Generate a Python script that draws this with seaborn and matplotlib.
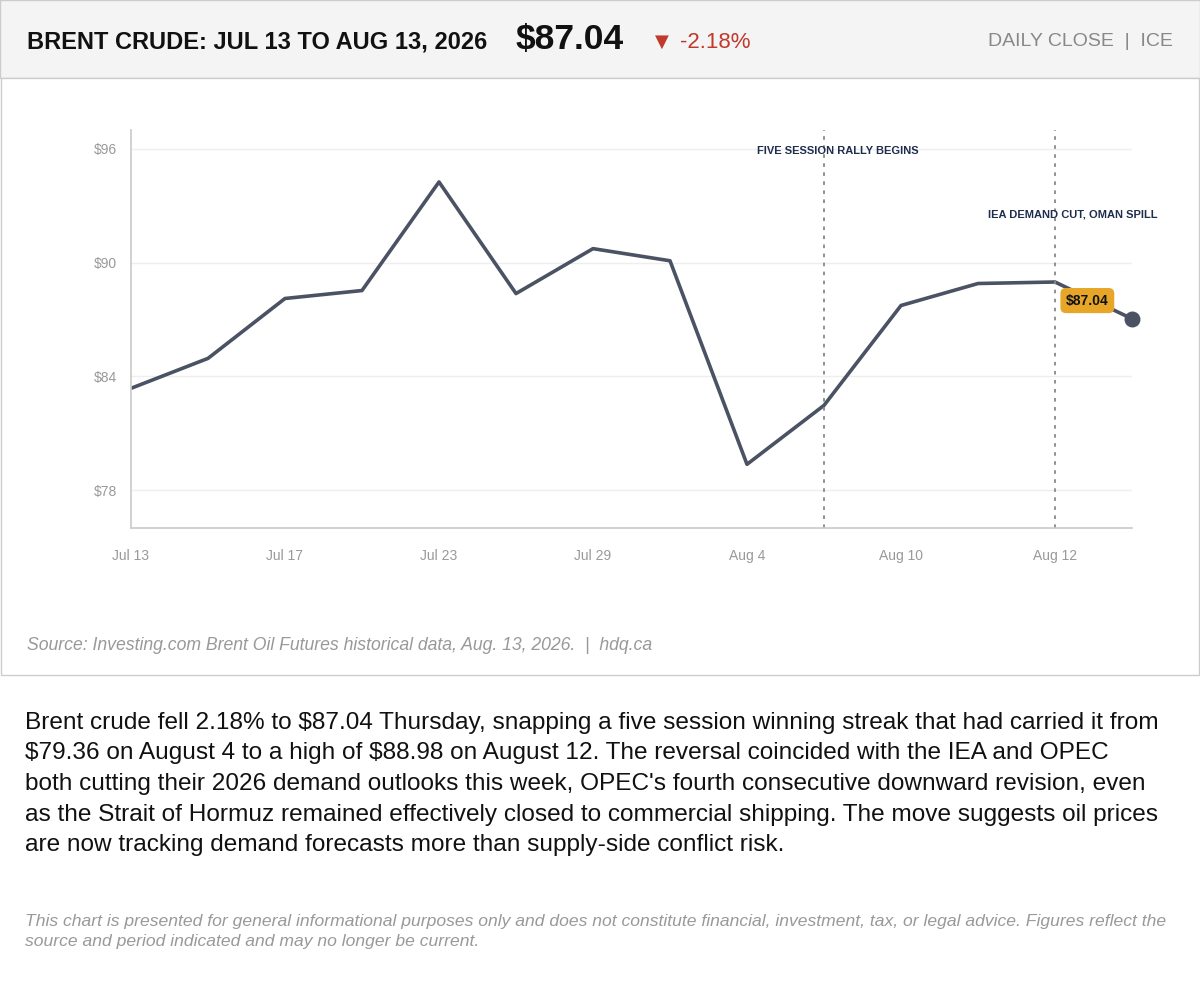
import matplotlib
matplotlib.use("Agg")
import matplotlib.pyplot as plt
import seaborn as sns
import pandas as pd
from matplotlib.patches import Rectangle

dates = ["Jul 13", "Jul 15", "Jul 17", "Jul 21", "Jul 23", "Jul 27", "Jul 29", "Jul 31",
         "Aug 4", "Aug 5", "Aug 10", "Aug 11", "Aug 12", "Aug 13"]
prices = [83.37, 84.95, 88.11, 88.53, 94.26, 88.37, 90.74, 90.10,
          79.36, 82.47, 87.74, 88.90, 88.98, 87.04]
yticks = [78, 84, 90, 96]
event_idx = [9, 12]
event_labels = ["FIVE SESSION RALLY BEGINS", "IEA DEMAND CUT, OMAN SPILL"]

sns.set_theme(style="white")
plt.rcParams['font.family'] = ['Liberation Sans', 'DejaVu Sans']

W, H = 1200, 1001
fig = plt.figure(figsize=(12, 10.01), dpi=100)
fig.patch.set_facecolor("white")

def fx(x): return x / W
def fy(y): return 1 - y / H

fig.patches.append(Rectangle((fx(0), fy(78)), 1, 78 / H, transform=fig.transFigure,
                             facecolor="#f4f4f4", edgecolor="#cccccc", lw=1, zorder=-10))
fig.patches.append(Rectangle((fx(1), fy(675)), 1198 / W, (675 - 78) / H, transform=fig.transFigure,
                             facecolor="white", edgecolor="#cccccc", lw=1, zorder=-10))

fig.text(fx(27), fy(42), "BRENT CRUDE: JUL 13 TO AUG 13, 2026", fontsize=17, fontweight="bold",
         color="#111111", va="center")
fig.text(fx(516), fy(39), "\\$87.04", fontsize=25.5, fontweight="bold", color="#111111", va="center")
fig.text(fx(655), fy(42), "▼", fontsize=13, color="#c0392b", va="center", family=['DejaVu Sans'])
fig.text(fx(680), fy(42), "-2.18%", fontsize=16, color="#c0392b", va="center")
fig.text(fx(1173), fy(42), "DAILY CLOSE  |  ICE", fontsize=14, color="#888888", va="center", ha="right")

ax = fig.add_axes([fx(131), fy(528), (1132 - 131) / W, (528 - 130) / H])
ax.set_zorder(5)
ax.patch.set_alpha(0)
df = pd.DataFrame({"idx": range(len(prices)), "price": prices})
sns.lineplot(data=df, x="idx", y="price", ax=ax, color="#4a5263", lw=2.6)
ax.scatter([df.idx.iloc[-1]], [prices[-1]], s=110, color="#4a5263", zorder=5, clip_on=False)
ax.set_xlim(0, len(prices) - 1)
ax.set_ylim(76, 97)
ax.set_yticks(yticks)
ax.set_yticklabels([f"\\${v}" for v in yticks], fontsize=10, color="#999999")
tick_pos = list(range(0, len(prices) - 1, 2))
ax.set_xticks(tick_pos)
ax.set_xticklabels([dates[i] for i in tick_pos], fontsize=10, color="#999999")
ax.tick_params(axis="y", length=0, pad=10)
ax.tick_params(axis="x", length=0, pad=15)
ax.set_xlabel(""); ax.set_ylabel("")
for v in yticks:
    ax.axhline(v, color="#eeeeee", lw=1, zorder=0)
for s in ["top", "right"]:
    ax.spines[s].set_visible(False)
for s in ["left", "bottom"]:
    ax.spines[s].set_color("#cccccc")
for i in event_idx:
    ax.axvline(i, color="#888888", ls=(0, (2, 3)), lw=1.3)
ax.text(event_idx[0] - 0.87, 95.9, event_labels[0], fontsize=8, fontweight="bold", color="#1f2d4d", va="center")
ax.text(event_idx[1] - 0.87, 92.55, event_labels[1], fontsize=8, fontweight="bold", color="#1f2d4d",
        va="center", clip_on=False)
ax.text(event_idx[1] + 0.42, 88.0, f"\\${prices[-1]:.2f}", fontsize=10, fontweight="bold", color="#111111",
        ha="center", va="center",
        bbox=dict(boxstyle="round,pad=0.4", facecolor="#e8a628", edgecolor="none"), zorder=6)

fig.text(fx(27), fy(645), "Source: Investing.com Brent Oil Futures historical data, Aug. 13, 2026.  |  hdq.ca",
         fontsize=12.7, style="italic", color="#999999", va="center")

body = ("Brent crude fell 2.18% to \\$87.04 Thursday, snapping a five session winning streak that had carried it from\n"
        "\\$79.36 on August 4 to a high of \\$88.98 on August 12. The reversal coincided with the IEA and OPEC\n"
        "both cutting their 2026 demand outlooks this week, OPEC's fourth consecutive downward revision, even\n"
        "as the Strait of Hormuz remained effectively closed to commercial shipping. The move suggests oil prices\n"
        "are now tracking demand forecasts more than supply-side conflict risk.")
fig.text(fx(25), fy(712), body, fontsize=17.6, color="#111111", va="top", linespacing=1.5)
disc = ("This chart is presented for general informational purposes only and does not constitute financial, investment, tax, or legal advice. Figures reflect the\n"
        "source and period indicated and may no longer be current.")
fig.text(fx(25), fy(914), disc, fontsize=12.6, style="italic", color="#999999", va="top", linespacing=1.4)

fig.savefig("out.png", dpi=100)
